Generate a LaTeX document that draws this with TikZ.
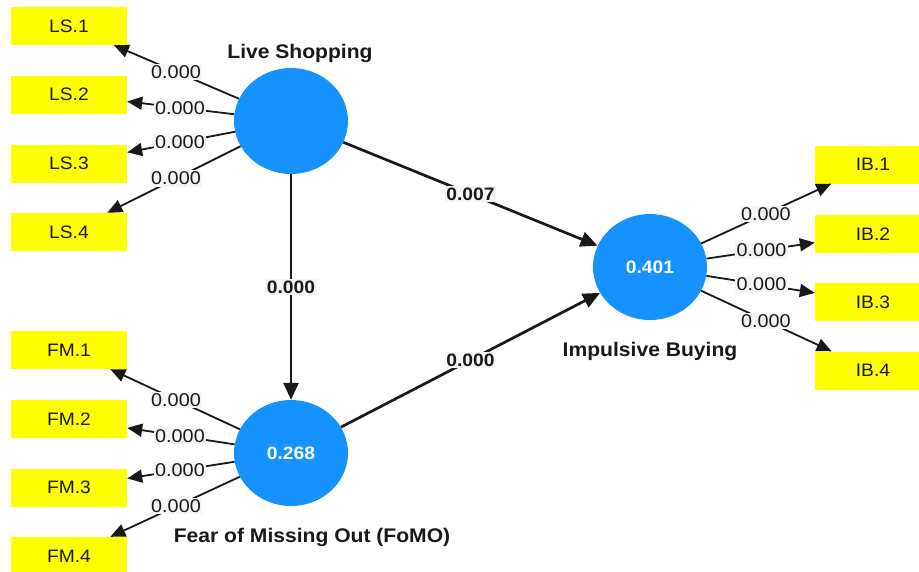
\documentclass[tikz,border=0pt]{standalone}
\usepackage{fontspec}
\setmainfont{Liberation Sans}[FakeStretch=1.07]
\usetikzlibrary{shapes.geometric,arrows.meta,calc}
\definecolor{lvblue}{RGB}{22,146,255}
\definecolor{indy}{RGB}{255,255,0}
\definecolor{lblbg}{RGB}{245,245,245}
\definecolor{txt}{RGB}{25,25,25}
\begin{document}
\begin{tikzpicture}[x=1pt,y=-1pt,
 latent/.style={ellipse,fill=lvblue,minimum width=114pt,minimum height=106pt,inner sep=0pt,text=white,font=\fontsize{18}{20}\selectfont\bfseries},
 indbox/.style={rectangle,fill=indy,minimum width=116pt,minimum height=38pt,inner sep=0pt,text=txt,font=\fontsize{18}{20}\selectfont},
 load/.style={line width=1.8pt,draw=txt,-{Triangle[length=15pt,width=13pt]}},
 pathc/.style={line width=2.7pt,draw=txt,-{Triangle[length=17pt,width=15pt]}},
 ldlbl/.style={fill=lblbg,inner sep=1.5pt,text=txt,font=\fontsize{18.5}{20}\selectfont},
 pclbl/.style={fill=lblbg,inner sep=1.5pt,text=txt,font=\fontsize{18}{20}\selectfont\bfseries},
 lvname/.style={inner sep=0pt,text=txt,font=\fontsize{19.7}{22}\selectfont\bfseries}]
\useasboundingbox (0,0) rectangle (919,571);
% latent variables
\node[latent] (LS) at (291,121) {};
\node[latent] (FM) at (291,453) {0.268};
\node[latent] (IB) at (650,267) {0.401};
\node[lvname] (nLS) at (300,53.5) {Live Shopping};
\node[lvname] (nFM) at (312,537) {Fear of Missing Out (FoMO)};
\node[lvname] (nIB) at (650,351.5) {Impulsive Buying};
% indicators
\node[indbox] (LS1) at (69,26) {LS.1};
\node[indbox] (LS2) at (69,94.5) {LS.2};
\node[indbox] (LS3) at (69,163.5) {LS.3};
\node[indbox] (LS4) at (69,232) {LS.4};
\node[indbox] (FM1) at (69,350) {FM.1};
\node[indbox] (FM2) at (69,419) {FM.2};
\node[indbox] (FM3) at (69,487.5) {FM.3};
\node[indbox] (FM4) at (69,556) {FM.4};
\node[indbox] (IB1) at (873,164.5) {IB.1};
\node[indbox] (IB2) at (873,234) {IB.2};
\node[indbox] (IB3) at (873,302) {IB.3};
\node[indbox] (IB4) at (873,370.5) {IB.4};
% loadings
\foreach \i in {1,...,4}{
  \draw[load] (LS) -- (LS\i);
  \draw[load] (FM) -- (FM\i);
  \draw[load] (IB) -- (IB\i);
}
% paths
\draw[pathc] (LS) -- (FM);
\draw[pathc] (LS) -- (IB);
\draw[pathc] (FM) -- (IB);
% loading labels
\node[ldlbl] (lLS1) at ($(LS)!0.518!(LS1)$) {0.000};
\node[ldlbl] (lLS2) at ($(LS)!0.5!(LS2)$) {0.000};
\node[ldlbl] (lLS3) at ($(LS)!0.5!(LS3)$) {0.000};
\node[ldlbl] (lLS4) at ($(LS)!0.518!(LS4)$) {0.000};
\node[ldlbl] (lFM1) at ($(FM)!0.518!(FM1)$) {0.000};
\node[ldlbl] (lFM2) at ($(FM)!0.5!(FM2)$) {0.000};
\node[ldlbl] (lFM3) at ($(FM)!0.5!(FM3)$) {0.000};
\node[ldlbl] (lFM4) at ($(FM)!0.518!(FM4)$) {0.000};
\node[ldlbl] (lIB1) at ($(IB)!0.52!(IB1)$) {0.000};
\node[ldlbl] (lIB2) at ($(IB)!0.5!(IB2)$) {0.000};
\node[ldlbl] (lIB3) at ($(IB)!0.5!(IB3)$) {0.000};
\node[ldlbl] (lIB4) at ($(IB)!0.52!(IB4)$) {0.000};
% path labels
\node[pclbl] (pLSFM) at ($(LS)!0.5!(FM)$) {0.000};
\node[pclbl] (pLSIB) at ($(LS)!0.5!(IB)$) {0.007};
\node[pclbl] (pFMIB) at ($(FM)!0.5!(IB)$) {0.000};
\end{tikzpicture}
\end{document}
